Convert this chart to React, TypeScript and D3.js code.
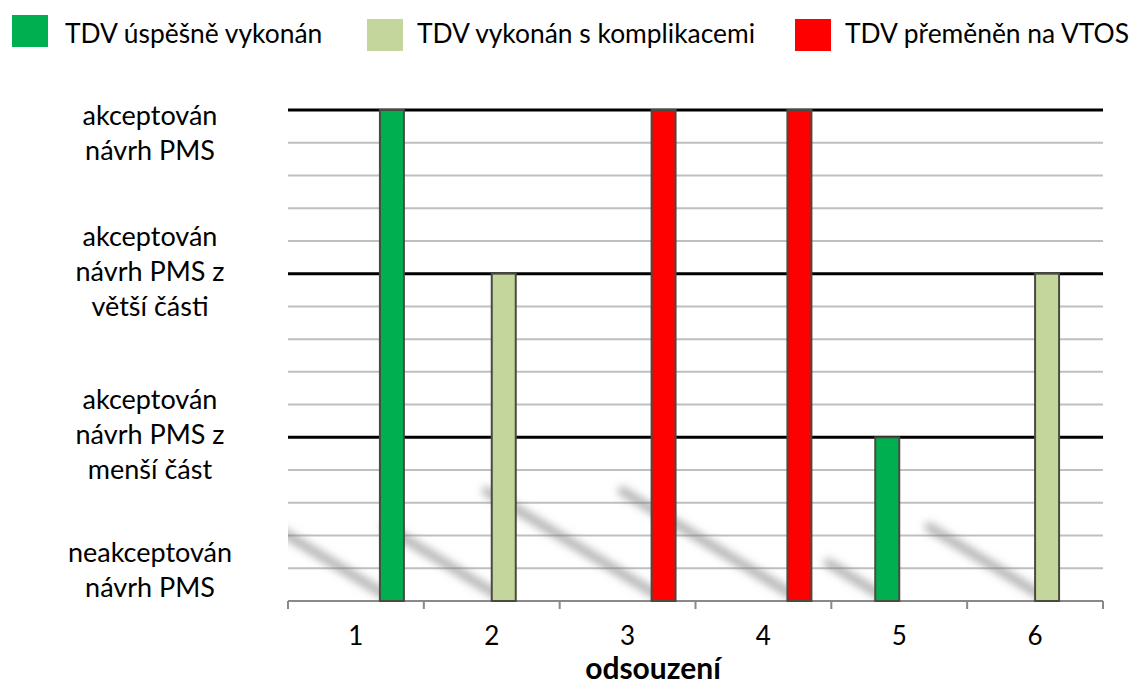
import { useEffect, useRef } from 'react';
import * as d3 from 'd3';

const categories = ['1', '2', '3', '4', '5', '6'];
const values = [15, 10, 15, 15, 5, 10];
// the original sheet had 4 series, each bar lives in one of the slots
const slots = [3, 2, 3, 3, 1, 2];
const outcomes = ['ok', 'compl', 'vtos', 'vtos', 'ok', 'compl'];

const legendKeys = ['ok', 'compl', 'vtos'];
const legendLabels = ['TDV úspěšně vykonán', 'TDV vykonán s komplikacemi', 'TDV přeměněn na VTOS'];
const legendColors = ['#00B050', '#C3D69B', '#FF0000'];

const yTickValues = [0, 5, 10, 15];
const yTickLabels = [
  ['neakceptován', 'návrh PMS'],
  ['akceptován', 'návrh PMS z', 'menší část'],
  ['akceptován', 'návrh PMS z', 'větší části'],
  ['akceptován', 'návrh PMS'],
];
const xTitle = 'odsouzení';

const W = 1134;
const H = 688;
const FONT = 'Lato, "Open Sans", sans-serif';

export default function App() {
  const svgRef = useRef<SVGSVGElement>(null);

  useEffect(() => {
    if (!svgRef.current) return;
    const svg = d3.select(svgRef.current);
    svg.selectAll('*').remove();

    const left = 288, right = 1103, top = 110, bottom = 601;

    const x = d3.scaleBand<string>().domain(categories).range([left, right]);
    const slot = d3.scaleBand<number>()
      .domain([0, 1, 2, 3])
      .range([0, x.bandwidth()])
      .paddingInner(0)
      .paddingOuter(0.83);
    const y = d3.scaleLinear().domain([0, 15]).range([bottom, top]);
    const color = d3.scaleOrdinal<string, string>().domain(legendKeys).range(legendColors);

    const defs = svg.append('defs');
    defs.append('filter')
      .attr('id', 'shadowBlur')
      .attr('x', '-20%').attr('y', '-20%').attr('width', '140%').attr('height', '140%')
      .append('feGaussianBlur')
      .attr('stdDeviation', 4);
    defs.append('clipPath')
      .attr('id', 'plotClip')
      .append('rect')
      .attr('x', left).attr('y', top - 2)
      .attr('width', right - left).attr('height', bottom - top + 2);

    // minor gridlines
    const minor = d3.range(1, 15).filter(v => v % 5 !== 0);
    svg.append('g')
      .selectAll('line')
      .data(minor)
      .join('line')
      .attr('x1', left).attr('x2', right)
      .attr('y1', d => y(d)).attr('y2', d => y(d))
      .attr('stroke', '#BFBFBF')
      .attr('stroke-width', 2);

    // diagonal shadows cast by the bars
    const data = categories.map((c, i) => ({
      cat: c,
      value: values[i],
      slot: slots[i],
      outcome: outcomes[i],
    }));
    const barMid = (d: typeof data[number]) =>
      (x(d.cat) ?? 0) + (slot(d.slot) ?? 0) + slot.bandwidth() / 2;
    const shadowDy = (d: typeof data[number]) => (y(0) - y(d.value)) * 0.22;
    svg.append('g')
      .attr('clip-path', 'url(#plotClip)')
      .append('g')
      .attr('filter', 'url(#shadowBlur)')
      .selectAll('line')
      .data(data)
      .join('line')
      .attr('x2', d => barMid(d))
      .attr('y2', y(0) - 2)
      .attr('x1', d => barMid(d) - shadowDy(d) / 0.61)
      .attr('y1', d => y(0) - 2 - shadowDy(d))
      .attr('stroke', '#7a7a7a')
      .attr('stroke-opacity', 0.6)
      .attr('stroke-width', 9)
      .attr('stroke-linecap', 'round');

    // major gridlines
    svg.append('g')
      .selectAll('line')
      .data(yTickValues.filter(v => v > 0))
      .join('line')
      .attr('x1', left).attr('x2', right)
      .attr('y1', d => y(d)).attr('y2', d => y(d))
      .attr('stroke', '#000')
      .attr('stroke-width', 3);

    // category axis
    const axis = svg.append('g');
    axis.append('line')
      .attr('x1', left).attr('x2', right)
      .attr('y1', y(0)).attr('y2', y(0))
      .attr('stroke', '#898989')
      .attr('stroke-width', 2);
    const edges = categories.map(c => x(c) ?? 0).concat([right]);
    axis.selectAll('line.tick')
      .data(edges)
      .join('line')
      .attr('class', 'tick')
      .attr('x1', d => d).attr('x2', d => d)
      .attr('y1', y(0)).attr('y2', y(0) + 8)
      .attr('stroke', '#898989')
      .attr('stroke-width', 2);
    axis.selectAll('text')
      .data(categories)
      .join('text')
      .attr('x', d => (x(d) ?? 0) + x.bandwidth() / 2)
      .attr('y', 645)
      .attr('text-anchor', 'middle')
      .style('font-family', FONT)
      .style('font-size', '26px')
      .style('fill', '#000')
      .text(d => d);

    // bars
    svg.append('g')
      .selectAll('rect')
      .data(data)
      .join('rect')
      .attr('x', d => (x(d.cat) ?? 0) + (slot(d.slot) ?? 0))
      .attr('y', d => y(d.value))
      .attr('width', slot.bandwidth())
      .attr('height', d => y(0) - y(d.value))
      .attr('fill', d => color(d.outcome))
      .attr('stroke', '#4a4a40')
      .attr('stroke-width', 2);

    // y labels (multi-line, kept inside the plot's vertical span)
    const lineH = 35;
    const yl = svg.append('g');
    yTickValues.forEach((v, i) => {
      const lines = yTickLabels[i];
      const n = lines.length;
      let first = y(v) + 7 - ((n - 1) / 2) * lineH;
      if (first < y(15) + 15) first = y(15) + 15;
      const last = first + (n - 1) * lineH;
      if (last > y(0) - 4) first -= last - (y(0) - 4);
      yl.append('text')
        .attr('text-anchor', 'middle')
        .style('font-family', FONT)
        .style('font-size', '27px')
        .style('fill', '#000')
        .selectAll('tspan')
        .data(lines)
        .join('tspan')
        .attr('x', 150)
        .attr('y', (_, j) => first + j * lineH)
        .text(d => d);
    });

    // axis title
    svg.append('text')
      .attr('x', 653)
      .attr('y', 679)
      .attr('text-anchor', 'middle')
      .style('font-family', FONT)
      .style('font-size', '30px')
      .style('font-weight', 'bold')
      .style('fill', '#000')
      .text(xTitle);

    // legend
    const legendX = [12, 367, 795];
    const legendTextX = [65, 417, 845];
    const legendY = [15, 19, 19];
    const lg = svg.append('g');
    legendKeys.forEach((k, i) => {
      lg.append('rect')
        .attr('x', legendX[i])
        .attr('y', legendY[i])
        .attr('width', 36)
        .attr('height', 32)
        .attr('fill', color(k));
      lg.append('text')
        .attr('x', legendTextX[i])
        .attr('y', 43)
        .style('font-family', FONT)
        .style('font-size', '26.4px')
        .style('fill', '#000')
        .text(legendLabels[i]);
    });
  }, []);

  return (
    <svg
      ref={svgRef}
      width={W}
      height={H}
      style={{ position: 'absolute', left: 0, top: 0, display: 'block', background: '#fff' }}
    />
  );
}
